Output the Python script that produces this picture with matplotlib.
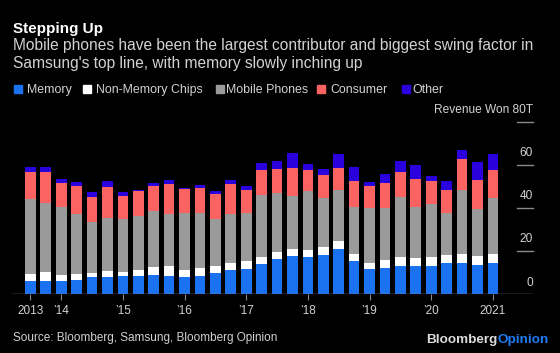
"""
Samsung revenue by segment, quarterly stacked bars (Bloomberg Opinion style).
"""

import numpy as np
import matplotlib
matplotlib.use("Agg")
import matplotlib.pyplot as plt
import matplotlib.transforms as mtransforms

plt.rcParams["font.family"] = ["Liberation Sans", "DejaVu Sans"]

# ─────────────────────────────────────────────────────────────────────────────
# Data (Won trillions, 3Q 2013 .. 1Q 2021)
# ─────────────────────────────────────────────────────────────────────────────
memory = [6.2, 6.2, 6.2, 6.6, 7.9, 7.9, 8.3, 8.3, 9.1, 8.5, 8.0, 8.5, 9.9, 11.4, 11.9, 13.9,
          16.2, 17.9, 17.1, 18.2, 21.1, 15.4, 11.5, 12.3, 13.1, 13.1, 13.1, 14.6, 14.3, 13.4, 14.3]
non_memory = [3.2, 4.0, 2.9, 2.8, 2.0, 2.7, 2.0, 2.8, 3.5, 4.6, 3.2, 3.5, 3.2, 3.2, 3.5, 3.5,
              3.5, 3.0, 3.5, 3.7, 3.5, 3.2, 2.8, 3.6, 4.3, 3.7, 4.3, 3.6, 4.3, 4.3, 4.6]
mobile = [34.9, 32.3, 31.4, 27.6, 23.4, 24.7, 24.5, 25.2, 25.9, 23.9, 26.7, 25.9, 21.7, 22.8, 22.5, 28.8,
          27.4, 24.7, 27.3, 22.7, 23.7, 21.9, 25.7, 24.1, 27.9, 23.7, 24.5, 19.5, 29.7, 21.9, 25.6]
consumer = [12.4, 14.0, 11.2, 13.2, 11.7, 14.4, 10.6, 11.6, 11.7, 14.0, 10.8, 11.5, 11.5, 13.7, 10.4, 11.2,
            11.1, 12.9, 9.8, 10.5, 10.2, 12.2, 10.2, 11.4, 11.2, 12.9, 10.6, 10.5, 14.2, 13.4, 13.2]
other = [2.3, 2.5, 1.9, 2.0, 2.4, 2.8, 1.9, 0.3, 1.4, 2.0, 0.7, 1.3, 1.6, 2.0, 1.9, 3.3,
         3.5, 7.1, 2.5, 3.1, 6.6, 6.3, 2.0, 4.5, 5.2, 6.3, 2.5, 4.3, 4.2, 8.3, 7.3]

series_names = ["Memory", "Non-Memory Chips", "Mobile Phones", "Consumer", "Other"]
series_colors = ["#1a72f0", "#ffffff", "#9a9a9a", "#fb6262", "#2a00dc"]

xtick_pos = [0, 2, 6, 10, 14, 18, 22, 26, 30]
xtick_labels = ["2013", "\u201914", "\u201915", "\u201916", "\u201917", "\u201918", "\u201919", "\u201920", "2021"]
ytick_vals = [0, 20, 40, 60, 80]
ytick_labels = ["0", "20", "40", "60", "Revenue Won 80T"]

W, H = 560, 353
BG = "#000000"
TXT = "#d2d2d2"
AXIS = "#8a8a8a"

# ─────────────────────────────────────────────────────────────────────────────
# Figure
# ─────────────────────────────────────────────────────────────────────────────
fig = plt.figure(figsize=(W / 100, H / 100), dpi=100, facecolor=BG)

def fx(px):
    return px / W

def fy(py):
    return 1 - py / H

ax = fig.add_axes([fx(12), fy(294.3), fx(521), 172.6 / H], facecolor=BG)

x = np.arange(len(memory))
bottom = np.zeros(len(memory))
for vals, color in zip([memory, non_memory, mobile, consumer, other], series_colors):
    ax.bar(x, vals, width=0.69, bottom=bottom, color=color, linewidth=0)
    bottom += np.array(vals)

ax.set_xlim(-1.19, 32.6)
ax.set_ylim(0, 80)
for s in ax.spines.values():
    s.set_visible(False)
ax.axhline(0, color=AXIS, lw=1.0, zorder=3)

# x ticks
ax.set_xticks(xtick_pos)
ax.set_xticklabels(xtick_labels)
ax.tick_params(axis="x", length=4, width=0.8, color=AXIS, labelcolor=TXT, labelsize=8.5, pad=4)
ax.set_yticks([])

# y ticks drawn on the right, label sitting above each tick line
trans = mtransforms.blended_transform_factory(ax.transAxes, ax.transData)
for v, lab in zip(ytick_vals, ytick_labels):
    if v > 0:
        ax.plot([0.969, 1.0], [v, v], color=AXIS, lw=1.0, transform=trans, clip_on=False)
    ax.text(1.0, v + 5.4, lab, transform=trans, ha="right", va="center",
            fontsize=8.6, color=TXT, clip_on=False)

# ─────────────────────────────────────────────────────────────────────────────
# Header, legend, footer
# ─────────────────────────────────────────────────────────────────────────────
fig.text(fx(12.7), fy(32.7), "Stepping Up", fontsize=11, weight="bold",
         color="#ffffff", va="baseline")
fig.text(fx(12.7), fy(50), "Mobile phones have been the largest contributor and biggest swing factor in",
         fontsize=11.2, color=TXT, va="baseline")
fig.text(fx(12.7), fy(68.3), "Samsung's top line, with memory slowly inching up",
         fontsize=11.2, color=TXT, va="baseline")

legend_sq_x = [14, 82.7, 216, 317.3, 401.7]
legend_txt_x = [27.3, 96, 226, 330.7, 412]
for name, color, sx, tx in zip(series_names, series_colors, legend_sq_x, legend_txt_x):
    fig.patches.append(plt.Rectangle((fx(sx), fy(92.7)), fx(8), 7.7 / H, color=color,
                                     transform=fig.transFigure, figure=fig))
    fig.text(fx(tx), fy(92.7), name, fontsize=8.9, color=TXT, va="baseline")

fig.text(fx(12.7), fy(340.7), "Source: Bloomberg, Samsung, Bloomberg Opinion",
         fontsize=8.5, color=TXT, va="baseline")
fig.text(fx(497), fy(343), "Bloomberg", fontsize=9.7, weight="bold", color="#dcdcdc",
         ha="right", va="baseline")
fig.text(fx(497), fy(343), "Opinion", fontsize=9.7, weight="bold", color="#1f7cf5",
         ha="left", va="baseline")

fig.savefig("out.png", dpi=100, facecolor=BG)
plt.close(fig)
